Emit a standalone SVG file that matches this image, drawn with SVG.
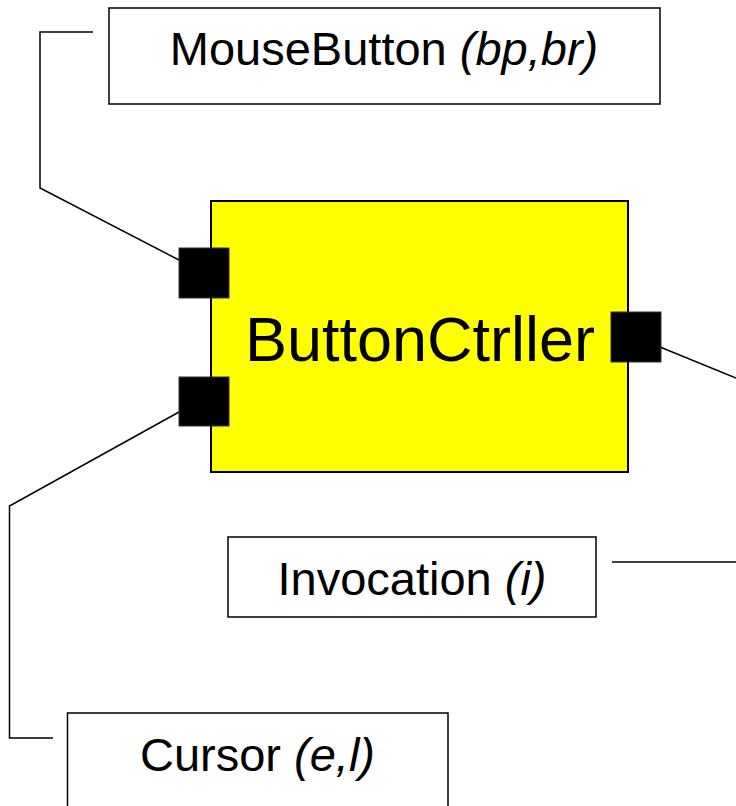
<svg xmlns="http://www.w3.org/2000/svg" width="736" height="806" viewBox="0 0 736 806">
<style>
.lbl{fill:#fff;stroke:#000;stroke-width:1.5}
.t{font-family:"Liberation Sans",Arial,sans-serif;fill:#000;text-anchor:middle}
.conn{fill:none;stroke:#000;stroke-width:1.5}
.port{fill:#000;stroke:#333;stroke-width:1}
</style>
<g id="connectors">
<polyline class="conn" points="93,32 40,32 40,188 179,260"/>
<polyline class="conn" points="179,412 9.5,506 9.5,738 53,738"/>
<line class="conn" x1="660" y1="347" x2="736" y2="378"/>
<line class="conn" x1="612" y1="562" x2="736" y2="562"/>
</g>
<g id="mousebutton">
<rect class="lbl" x="109" y="8" width="551" height="96"/>
<text class="t" x="384" y="65" font-size="47">MouseButton <tspan font-style="italic">(bp,br)</tspan></text>
</g>
<g id="buttonctrller">
<rect x="211" y="201" width="417" height="271" fill="#ffff00" stroke="#000" stroke-width="2"/>
<text class="t" x="420" y="361" font-size="63">ButtonCtrller</text>
<rect class="port" x="179" y="248" width="50" height="50"/>
<rect class="port" x="179" y="377" width="50" height="49"/>
<rect class="port" x="611" y="312" width="50" height="50"/>
</g>
<g id="invocation">
<rect class="lbl" x="228" y="537" width="368" height="80"/>
<text class="t" x="412" y="595" font-size="47">Invocation <tspan font-style="italic">(i)</tspan></text>
</g>
<g id="cursor">
<rect class="lbl" x="67.5" y="713" width="380.5" height="110"/>
<text class="t" x="257.5" y="771" font-size="47">Cursor <tspan font-style="italic">(e,l)</tspan></text>
</g>
</svg>
